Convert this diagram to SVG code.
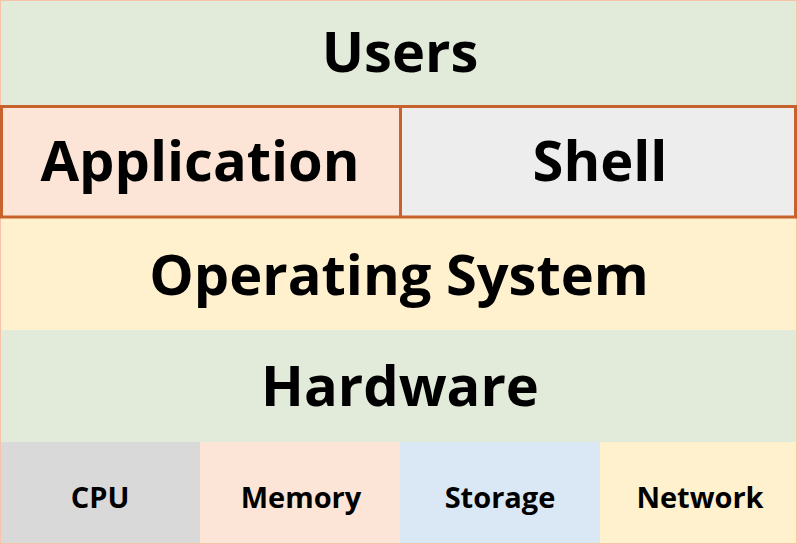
<svg xmlns="http://www.w3.org/2000/svg" width="797" height="544" viewBox="0 0 797 544">
<style>
.big{font-family:"Open Sans","Noto Sans","DejaVu Sans",sans-serif;font-weight:700;font-size:56px;fill:#000;text-anchor:middle}
.small{font-family:"Open Sans","Noto Sans","DejaVu Sans",sans-serif;font-weight:700;font-size:29px;fill:#000;text-anchor:middle}
.edge{fill:none;stroke:#C8622C;stroke-width:3}
</style>
<g id="users"><rect x="0" y="0" width="797" height="106" fill="#E2EBDA"/><text class="big" x="400" y="72">Users</text></g>
<g id="application"><rect x="0" y="106" width="400" height="111" fill="#FCE4D6"/><text class="big" x="200" y="181">Application</text></g>
<g id="shell"><rect x="400" y="106" width="397" height="111" fill="#EDEDED"/><text class="big" x="600" y="181">Shell</text></g>
<g id="os"><rect x="0" y="217" width="797" height="113" fill="#FFF0CE"/><text class="big" x="399" y="295">Operating System</text></g>
<g id="hardware"><rect x="0" y="330" width="797" height="112" fill="#E2EBDA"/><text class="big" x="400" y="406">Hardware</text></g>
<g id="cpu"><rect x="0" y="442" width="200" height="102" fill="#D9D9D9"/><text class="small" x="100" y="508">CPU</text></g>
<g id="memory"><rect x="200" y="442" width="200" height="102" fill="#FCE4D6"/><text class="small" x="301" y="508">Memory</text></g>
<g id="storage"><rect x="400" y="442" width="200" height="102" fill="#DAE8F5"/><text class="small" x="500" y="508">Storage</text></g>
<g id="network"><rect x="600" y="442" width="197" height="102" fill="#FFF0CE"/><text class="small" x="700" y="508">Network</text></g>
<g id="borders">
<rect x="0.5" y="0.5" width="796" height="543" fill="none" stroke="#F6C3A8" stroke-width="1"/>
<rect class="edge" x="1.5" y="106.5" width="794" height="110.5"/>
<line class="edge" x1="400.5" y1="106.5" x2="400.5" y2="217"/>
</g>
</svg>
